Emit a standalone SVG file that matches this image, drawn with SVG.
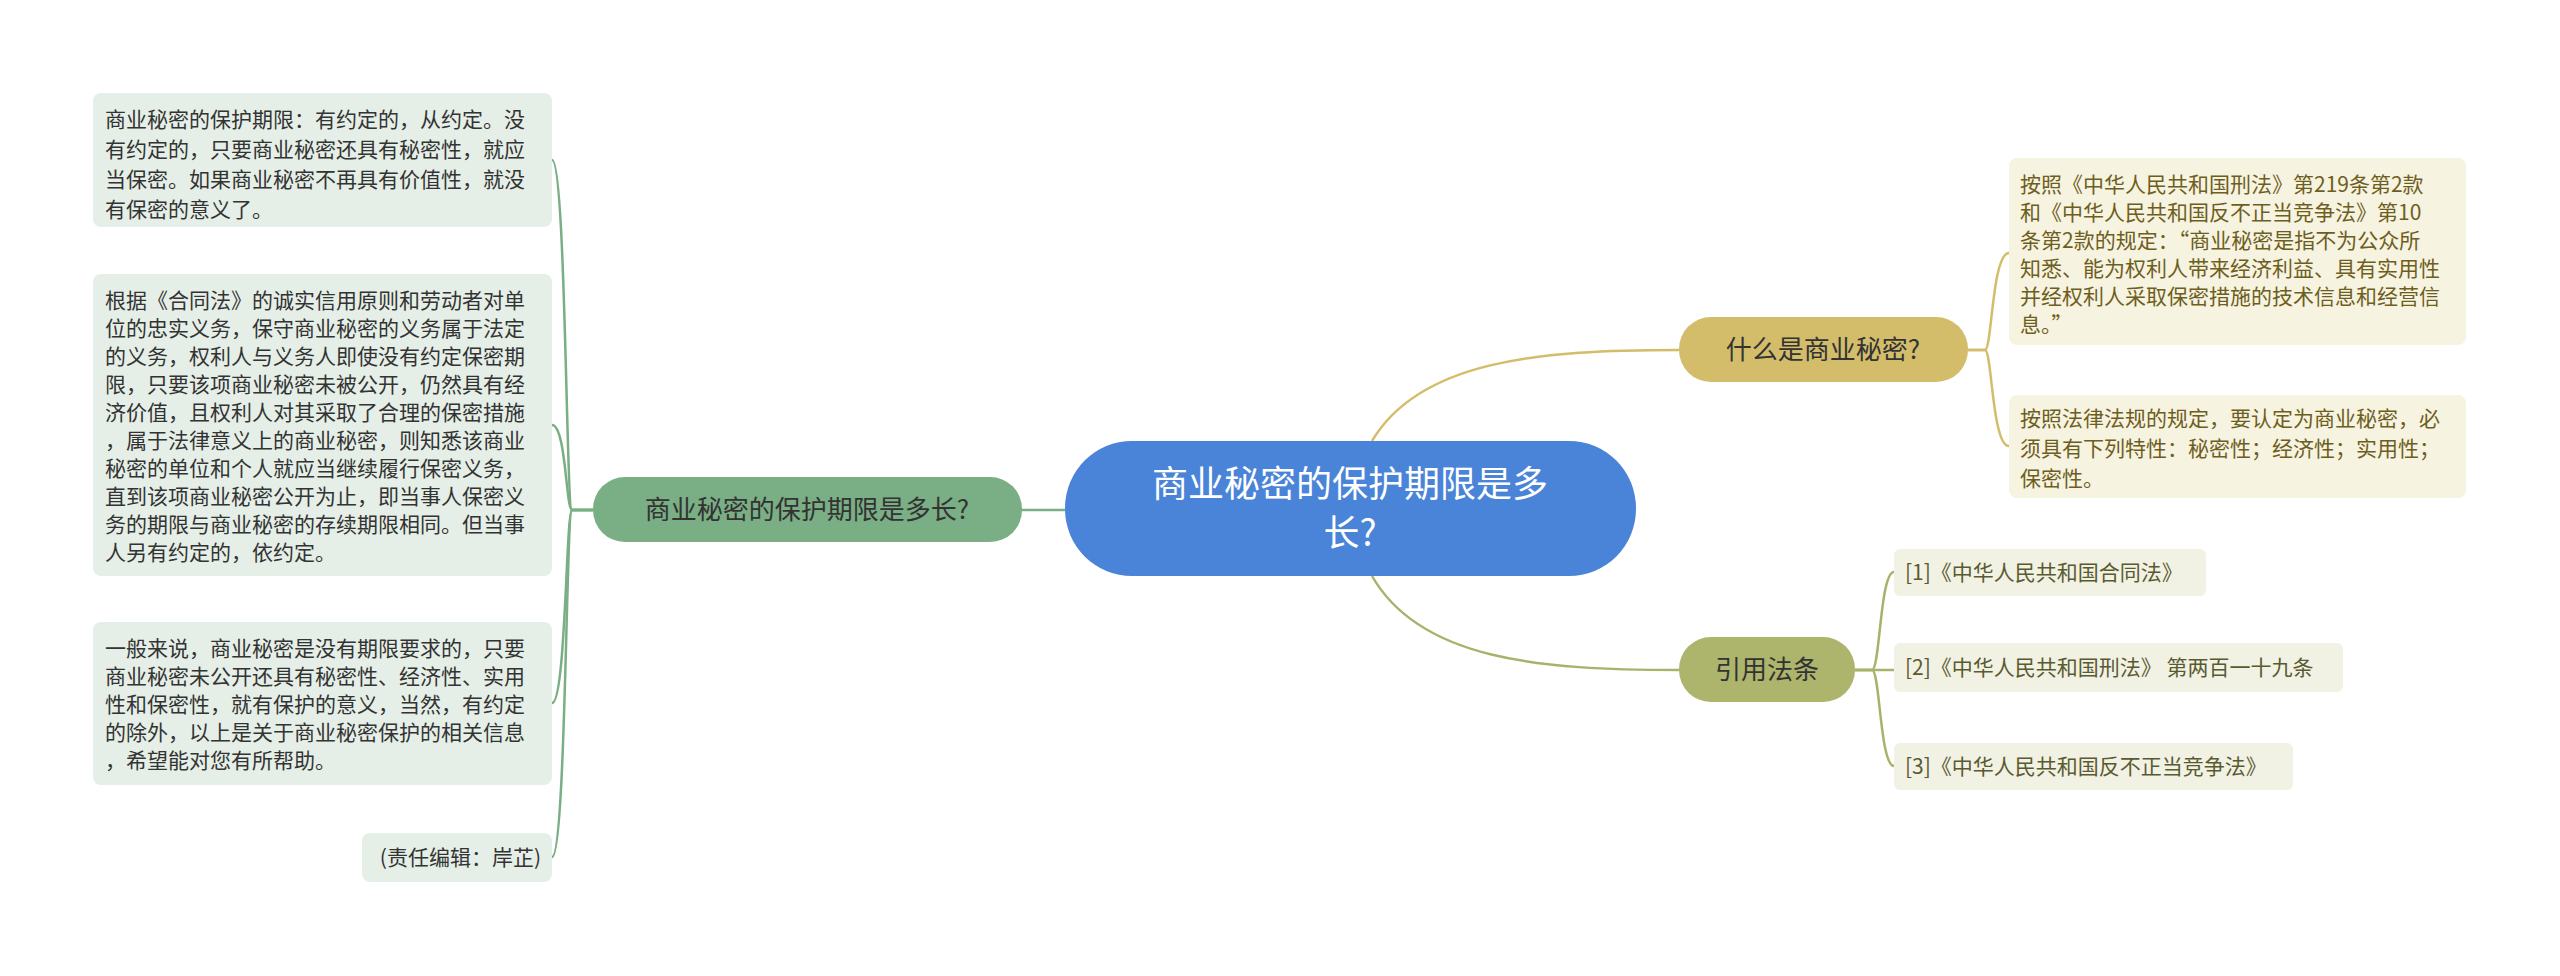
<svg xmlns="http://www.w3.org/2000/svg" width="2560" height="976" viewBox="0 0 2560 976">
<style>
text{font-family:"Noto Sans CJK SC","Noto Sans",sans-serif}
.lf{fill:#e5efe7}
.lt{font-size:21px;fill:#333}
.rf{fill:#f6f3e0}
.rt{font-size:21px;fill:#6e5e1e}
.cf{fill:#f1f1e4}
.ct{font-size:21px;fill:#5a5a30}
.cg path{fill:none;stroke-width:2.5}
</style>
<rect width="2560" height="976" fill="#fff"/>
<g class="cg" id="connectors">
<path d="M1372 441 C1420 360 1540 350 1679 350" stroke="#d4bd6a"/>
<path d="M1372 576 C1420 660 1540 670 1679 670" stroke="#a9b26a"/>
<path d="M1065 510 H1022" stroke="#7aae84"/>
<g stroke="#7aae84">
<path d="M593 510 H572 C566 510 566 160 552 160"/>
<path d="M593 510 H572 C566 510 566 425 552 425"/>
<path d="M593 510 H572 C566 510 566 703 552 703"/>
<path d="M593 510 H572 C566 510 566 857 552 857"/>
</g>
<g stroke="#d4bd6a">
<path d="M1968 350 H1985 C1992 350 1992 253 2009 253"/>
<path d="M1968 350 H1985 C1992 350 1992 446 2009 446"/>
</g>
<g stroke="#a9b26a">
<path d="M1855 670 H1872 C1880 670 1880 572 1894 572"/>
<path d="M1855 670 H1894"/>
<path d="M1855 670 H1872 C1880 670 1880 766 1894 766"/>
</g>
</g>
<g id="center">
<rect x="1065" y="441" width="571" height="135" rx="67" fill="#4a84d8"/>
<text x="1350" y="497" font-size="36" fill="#fff" text-anchor="middle">商业秘密的保护期限是多</text>
<text x="1350" y="546" font-size="36" fill="#fff" text-anchor="middle">长?</text>
</g>
<g id="left-branch">
<rect x="593" y="477" width="429" height="65" rx="32" fill="#7aae84"/>
<text x="807" y="519" font-size="26" fill="#333" text-anchor="middle">商业秘密的保护期限是多长?</text>
</g>
<g id="left-leaf-1">
<rect class="lf" x="93" y="93" width="459" height="134" rx="8"/>
<text class="lt" x="105" y="127">商业秘密的保护期限：有约定的，从约定。没</text>
<text class="lt" x="105" y="157">有约定的，只要商业秘密还具有秘密性，就应</text>
<text class="lt" x="105" y="187">当保密。如果商业秘密不再具有价值性，就没</text>
<text class="lt" x="105" y="217">有保密的意义了。</text>
</g>
<g id="left-leaf-2">
<rect class="lf" x="93" y="274" width="459" height="302" rx="8"/>
<text class="lt" x="105" y="308">根据《合同法》的诚实信用原则和劳动者对单</text>
<text class="lt" x="105" y="336">位的忠实义务，保守商业秘密的义务属于法定</text>
<text class="lt" x="105" y="364">的义务，权利人与义务人即使没有约定保密期</text>
<text class="lt" x="105" y="392">限，只要该项商业秘密未被公开，仍然具有经</text>
<text class="lt" x="105" y="420">济价值，且权利人对其采取了合理的保密措施</text>
<text class="lt" x="105" y="448">，属于法律意义上的商业秘密，则知悉该商业</text>
<text class="lt" x="105" y="476">秘密的单位和个人就应当继续履行保密义务，</text>
<text class="lt" x="105" y="504">直到该项商业秘密公开为止，即当事人保密义</text>
<text class="lt" x="105" y="532">务的期限与商业秘密的存续期限相同。但当事</text>
<text class="lt" x="105" y="560">人另有约定的，依约定。</text>
</g>
<g id="left-leaf-3">
<rect class="lf" x="93" y="622" width="459" height="163" rx="8"/>
<text class="lt" x="105" y="656">一般来说，商业秘密是没有期限要求的，只要</text>
<text class="lt" x="105" y="684">商业秘密未公开还具有秘密性、经济性、实用</text>
<text class="lt" x="105" y="712">性和保密性，就有保护的意义，当然，有约定</text>
<text class="lt" x="105" y="740">的除外，以上是关于商业秘密保护的相关信息</text>
<text class="lt" x="105" y="768">，希望能对您有所帮助。</text>
</g>
<g id="left-leaf-4">
<rect class="lf" x="362" y="833" width="190" height="49" rx="8"/>
<text class="lt" x="541" y="865" text-anchor="end">(责任编辑：岸芷)</text>
</g>
<g id="branch-what">
<rect x="1679" y="317" width="289" height="65" rx="32" fill="#d4bd6a"/>
<text x="1823" y="359" font-size="26" fill="#333" text-anchor="middle">什么是商业秘密?</text>
</g>
<g id="what-leaf-1">
<rect class="rf" x="2009" y="158" width="457" height="187" rx="8"/>
<text class="rt" x="2020" y="192">按照《中华人民共和国刑法》第219条第2款</text>
<text class="rt" x="2020" y="220">和《中华人民共和国反不正当竞争法》第10</text>
<text class="rt" x="2020" y="248">条第2款的规定：“商业秘密是指不为公众所</text>
<text class="rt" x="2020" y="276">知悉、能为权利人带来经济利益、具有实用性</text>
<text class="rt" x="2020" y="304">并经权利人采取保密措施的技术信息和经营信</text>
<text class="rt" x="2020" y="332">息。”</text>
</g>
<g id="what-leaf-2">
<rect class="rf" x="2009" y="395" width="457" height="103" rx="8"/>
<text class="rt" x="2020" y="426">按照法律法规的规定，要认定为商业秘密，必</text>
<text class="rt" x="2020" y="456">须具有下列特性：秘密性；经济性；实用性；</text>
<text class="rt" x="2020" y="486">保密性。</text>
</g>
<g id="branch-law">
<rect x="1679" y="637" width="176" height="65" rx="32" fill="#adb56c"/>
<text x="1767" y="679" font-size="26" fill="#333" text-anchor="middle">引用法条</text>
</g>
<g id="law-1">
<rect class="cf" x="1894" y="549" width="312" height="47" rx="6"/>
<text class="ct" x="1905" y="580">[1]《中华人民共和国合同法》</text>
</g>
<g id="law-2">
<rect class="cf" x="1894" y="643" width="449" height="49" rx="6"/>
<text class="ct" x="1905" y="675">[2]《中华人民共和国刑法》 第两百一十九条</text>
</g>
<g id="law-3">
<rect class="cf" x="1894" y="743" width="399" height="47" rx="6"/>
<text class="ct" x="1905" y="774">[3]《中华人民共和国反不正当竞争法》</text>
</g>
</svg>
